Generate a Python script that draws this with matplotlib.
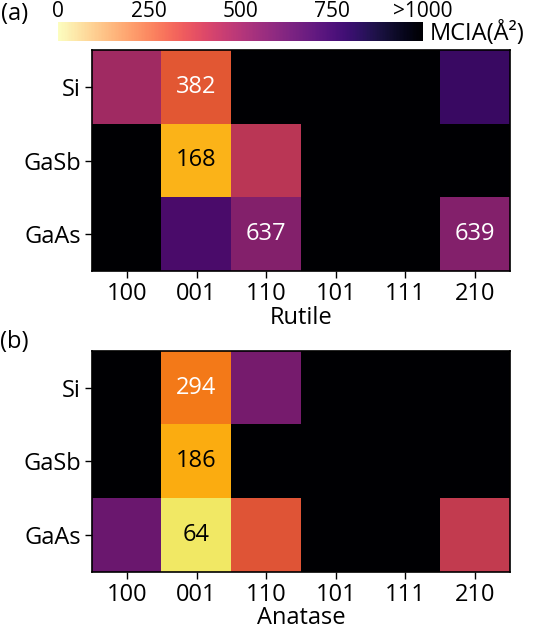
import numpy as np
import matplotlib
matplotlib.use("Agg")
import matplotlib.pyplot as plt
from matplotlib.cm import ScalarMappable
from matplotlib.colors import Normalize

plt.rcParams['font.family'] = ['Open Sans', 'DejaVu Sans']

substrates = ["Si", "GaSb", "GaAs"]
facets = ["100", "001", "110", "101", "111", "210"]

# MCIA values (Å^2); cells drawn black are >1000, stored as 1200
rutile = np.array([
    [570, 382, 1200, 1200, 1200, 820],
    [1200, 168, 500, 1200, 1200, 1200],
    [1200, 780, 637, 1200, 1200, 639],
])
anatase = np.array([
    [1200, 294, 670, 1200, 1200, 1200],
    [1200, 186, 1200, 1200, 1200, 1200],
    [700, 64, 390, 1200, 1200, 480],
])

# annotated cells: (row, col, text colour)
rutile_notes = [(0, 1, "white"), (1, 1, "black"), (2, 2, "white"), (2, 5, "white")]
anatase_notes = [(0, 1, "white"), (1, 1, "black"), (2, 1, "black")]

cbar_ticks = [0, 250, 500, 750, 1000]
cbar_labels = ["0", "250", "500", "750", ">1000"]

FS = 17
W, H = 556, 633
fig = plt.figure(figsize=(W / 100, H / 100), dpi=100)


def px_axes(x0, y0, x1, y1):
    return fig.add_axes([x0 / W, 1 - y1 / H, (x1 - x0) / W, (y1 - y0) / H])


def heat(ax, data, notes, xlabel, lpad):
    ax.imshow(data, cmap="inferno_r", vmin=0, vmax=1000, aspect="auto",
              interpolation="nearest")
    for r, c, col in notes:
        ax.text(c, r, str(data[r, c]), ha="center", va="center",
                color=col, fontsize=FS)
    ax.set_xticks(range(len(facets)))
    ax.set_xticklabels(facets)
    ax.set_yticks(range(len(substrates)))
    ax.set_yticklabels(substrates)
    ax.tick_params(labelsize=FS, length=5, width=1, pad=3)
    ax.set_xlabel(xlabel, fontsize=FS, labelpad=lpad)
    for s in ax.spines.values():
        s.set_linewidth(1.2)


ax_a = px_axes(92, 50, 510, 271)
heat(ax_a, rutile, rutile_notes, "Rutile", 0)

ax_b = px_axes(92, 351, 510, 572)
heat(ax_b, anatase, anatase_notes, "Anatase", -1)

# colour bar at the top
cax = px_axes(58, 22, 423, 41)
cb = fig.colorbar(ScalarMappable(Normalize(0, 1000), cmap="magma_r"),
                  cax=cax, orientation="horizontal")
cb.outline.set_visible(False)
cax.xaxis.set_ticks_position("top")
cb.set_ticks(cbar_ticks)
cb.set_ticklabels(cbar_labels)
cax.tick_params(labelsize=15, length=0, pad=0)
fig.text(430 / W, 1 - 33 / H, "MCIA(Å²)", fontsize=FS, va="center", ha="left")

fig.text(1 / W, 1 - 14 / H, "(a)", fontsize=FS, va="center", ha="left")
fig.text(0 / W, 1 - 342 / H, "(b)", fontsize=FS, va="center", ha="left")

fig.savefig("out.png", dpi=100)
